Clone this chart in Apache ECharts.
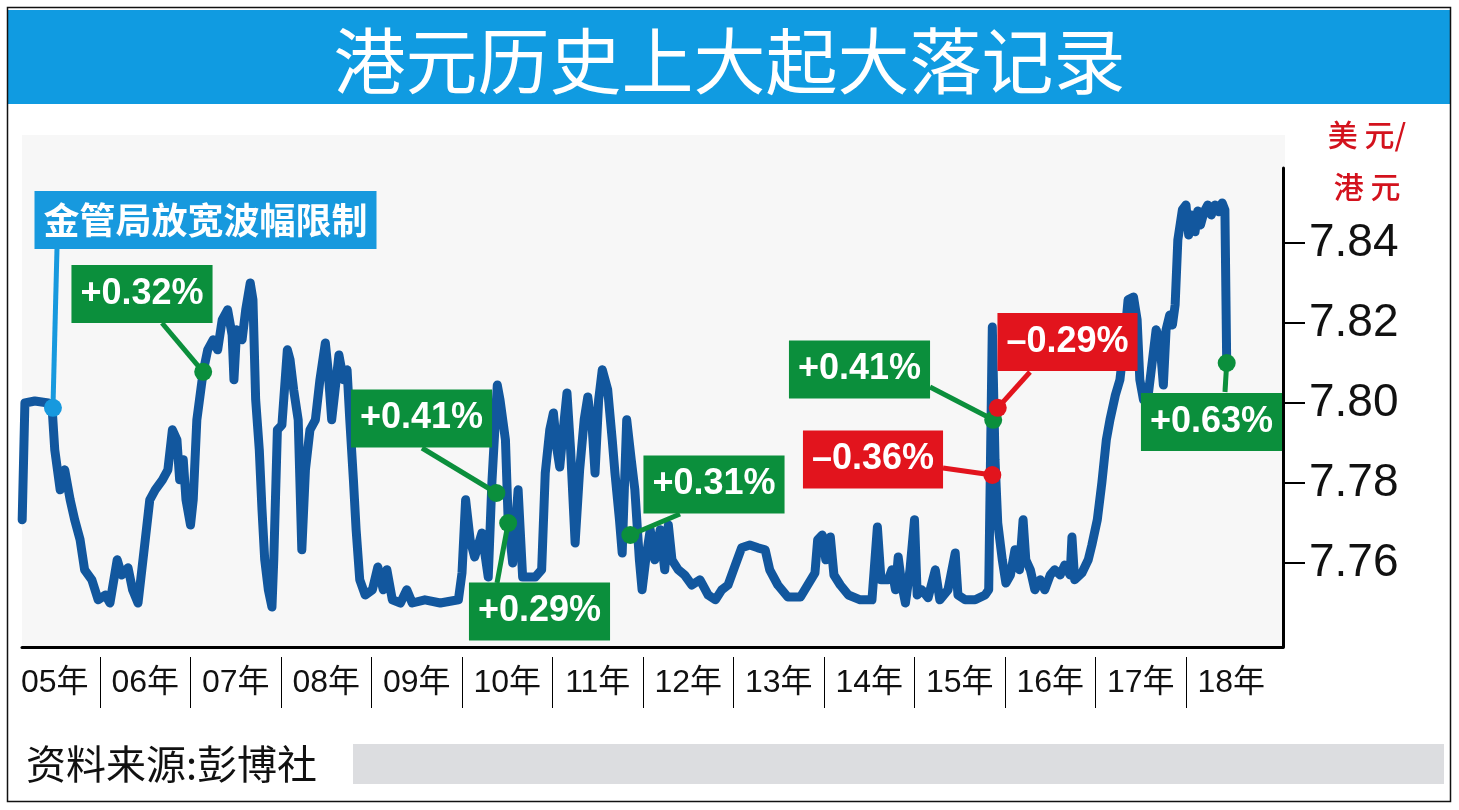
<!DOCTYPE html>
<html><head><meta charset="utf-8">
<script src="https://cdn.jsdelivr.net/npm/echarts@6.0.0/dist/echarts.min.js"></script>
<style>html,body{margin:0;padding:0;background:#fff}#chart{width:1459px;height:810px}</style>
</head><body><div id="chart"></div>
<script>
// ---- data ----
const lineYears = [
2005.14,2005.17,2005.28,2005.43,2005.47,2005.50,2005.56,2005.61,2005.67,2005.72,2005.78,2005.83,2005.91,2005.98,
2006.06,2006.11,2006.19,2006.24,2006.31,2006.36,2006.42,2006.50,2006.55,2006.61,2006.69,2006.75,2006.80,2006.85,2006.88,2006.92,2006.95,
2007.00,2007.03,2007.07,2007.14,2007.19,2007.25,2007.30,2007.35,2007.41,2007.46,2007.48,2007.51,2007.57,2007.61,2007.66,2007.69,2007.72,2007.76,2007.79,2007.82,2007.86,2007.90,2007.92,2007.96,
2008.01,2008.07,2008.10,2008.14,2008.19,2008.23,2008.27,2008.32,2008.38,2008.43,2008.49,2008.52,2008.56,2008.61,2008.64,2008.69,2008.73,2008.76,2008.80,2008.83,2008.87,2008.93,
2009.01,2009.07,2009.13,2009.17,2009.23,2009.32,2009.39,2009.45,2009.59,2009.76,2009.96,
2010.00,2010.04,2010.09,2010.14,2010.22,2010.29,2010.33,2010.39,2010.42,2010.48,2010.51,2010.56,2010.62,2010.67,2010.81,2010.88,2010.92,2010.97,
2011.01,2011.05,2011.08,2011.13,2011.16,2011.20,2011.25,2011.30,2011.35,2011.39,2011.44,2011.47,2011.51,2011.55,2011.58,2011.61,2011.66,2011.69,2011.74,2011.77,2011.82,2011.87,2011.91,2011.96,2011.99,
2012.03,2012.08,2012.13,2012.19,2012.24,2012.28,2012.32,2012.39,2012.46,2012.54,2012.63,2012.72,2012.80,2012.87,2012.94,
2013.02,2013.09,2013.18,2013.27,2013.35,2013.40,2013.49,2013.60,2013.74,2013.82,2013.90,2013.93,2013.98,
2014.02,2014.07,2014.11,2014.18,2014.27,2014.40,2014.53,2014.59,2014.63,2014.71,2014.75,2014.79,2014.82,2014.86,2014.90,2014.95,
2015.00,2015.03,2015.08,2015.15,2015.23,2015.28,2015.37,2015.45,2015.48,2015.56,2015.67,2015.78,2015.82,2015.86,2015.89,2015.92,2015.97,
2016.01,2016.06,2016.11,2016.16,2016.20,2016.23,2016.28,2016.33,2016.39,2016.44,2016.50,2016.55,2016.61,2016.66,2016.72,2016.74,2016.77,2016.85,2016.92,2016.96,
2017.02,2017.07,2017.12,2017.16,2017.22,2017.27,2017.32,2017.36,2017.42,2017.46,2017.49,2017.53,2017.58,2017.63,2017.67,2017.71,2017.75,2017.78,2017.82,2017.85,2017.88,2017.91,2017.96,
2018.00,2018.03,2018.06,2018.10,2018.13,2018.16,2018.20,2018.24,2018.28,2018.32,2018.36,2018.40,2018.43,2018.45
];
const lineValues = [
7.7708,7.8000,7.8005,7.8000,7.7990,7.7883,7.7783,7.7833,7.7758,7.7708,7.7658,7.7583,7.7558,7.7508,
7.7520,7.7500,7.7608,7.7570,7.7588,7.7533,7.7500,7.7658,7.7758,7.7783,7.7808,7.7833,7.7933,7.7908,7.7808,7.7858,7.7758,
7.7695,7.7758,7.7958,7.8078,7.8133,7.8158,7.8133,7.8208,7.8233,7.8170,7.8058,7.8183,7.8158,7.8233,7.8300,7.8258,7.8008,7.7883,7.7733,7.7608,7.7533,7.7490,7.7608,7.7933,
7.7945,7.8133,7.8108,7.8033,7.7958,7.7633,7.7833,7.7933,7.7958,7.8058,7.8150,7.8083,7.7958,7.8058,7.8120,7.8058,7.8083,7.7958,7.7808,7.7683,7.7558,7.7520,
7.7533,7.7590,7.7533,7.7583,7.7508,7.7500,7.7533,7.7500,7.7508,7.7500,7.7508,
7.7575,7.7758,7.7658,7.7615,7.7675,7.7565,7.7800,7.8045,7.8008,7.7908,7.7708,7.7600,7.7783,7.7565,7.7565,7.7583,7.7825,7.7933,
7.7975,7.7883,7.7840,7.7958,7.8025,7.7883,7.7650,7.7833,7.7958,7.8015,7.7933,7.7825,7.8008,7.8083,7.8058,7.8033,7.7908,7.7825,7.7708,7.7625,7.7958,7.7858,7.7783,7.7608,7.7533,
7.7608,7.7683,7.7608,7.7683,7.7583,7.7695,7.7608,7.7583,7.7570,7.7545,7.7558,7.7520,7.7508,7.7533,7.7545,
7.7595,7.7638,7.7645,7.7638,7.7633,7.7583,7.7545,7.7515,7.7515,7.7545,7.7575,7.7658,7.7670,
7.7608,7.7665,7.7570,7.7545,7.7520,7.7508,7.7508,7.7690,7.7558,7.7558,7.7583,7.7533,7.7615,7.7545,7.7500,7.7583,
7.7708,7.7520,7.7533,7.7513,7.7583,7.7508,7.7533,7.7625,7.7520,7.7508,7.7508,7.7520,7.7533,7.8190,7.7858,7.7700,7.7608,
7.7550,7.7570,7.7633,7.7583,7.7708,7.7608,7.7583,7.7533,7.7558,7.7533,7.7570,7.7583,7.7570,7.7595,7.7570,7.7665,7.7558,7.7575,7.7608,7.7645,
7.7708,7.7800,7.7908,7.7958,7.8020,7.8058,7.8158,7.8258,7.8265,7.8208,7.8058,7.8008,7.8015,7.8108,7.8183,7.8158,7.8045,7.8183,7.8220,7.8195,7.8245,7.8408,7.8483,
7.8495,7.8420,7.8470,7.8428,7.8480,7.8445,7.8478,7.8495,7.8470,7.8495,7.8478,7.8500,7.8483,7.8103
];
const yearLabels = ['05年','06年','07年','08年','09年','10年','11年','12年','13年','14年','15年','16年','17年','18年'];
const yTickValues = [7.76, 7.78, 7.80, 7.82, 7.84];

const annoText  = ['金管局放宽波幅限制','+0.32%','+0.41%','+0.29%','+0.31%','+0.41%','–0.36%','–0.29%','+0.63%'];
const annoYear  = [2005.48, 2007.14, 2010.38, 2010.51, 2011.86, 2015.87, 2015.86, 2015.92, 2018.45];
const annoValue = [7.7988, 7.8078, 7.7775, 7.7700, 7.7670, 7.7958, 7.7820, 7.7988, 7.8100];
const annoKind  = ['policy','rise','rise','rise','rise','rise','fall','fall','rise'];

// ---- layout / style (not data) ----
const kindColor = {policy:'#1799de', rise:'#0b8f3c', fall:'#e2141d'};
const annoBoxCenter = [[205.5,220],[142,294],[421.5,418.5],[539.5,611.5],[714,484.5],[859.5,369.5],[873,459.5],[1067.5,342],[1211.5,422]];
const leaderEnd = [[57,248],[162,323],[422,448],[497,583],[680,514],[930,387],[943,468],[1030,372],[1225,392]];

const LAT = "'Liberation Sans', 'Noto Sans CJK SC', sans-serif";
const CJK = "'Noto Sans CJK SC', sans-serif";
const X_MIN = 2005.138, X_MAX = 2019.072;
const yearBounds = yearLabels.slice(1).map((_, i) => 2006 + i);
const yearMids = yearLabels.map((_, i) => 2005.5 + i);

const chart = echarts.init(document.getElementById('chart'), null, {renderer: 'canvas'});

const lineData = lineYears.map((y, i) => [y, lineValues[i]]);
const annoData = annoYear.map((y, i) => ({
  value: [y, annoValue[i]],
  itemStyle: {color: kindColor[annoKind[i]], opacity: 1},
  label: {
    backgroundColor: kindColor[annoKind[i]],
    fontFamily: annoKind[i] === 'policy' ? CJK : LAT
  }
}));
const leaderData = annoYear.map((y, i) => [
  {coord: [y, annoValue[i]], lineStyle: {color: kindColor[annoKind[i]], width: 5, type: 'solid', opacity: 1}},
  {x: leaderEnd[i][0], y: leaderEnd[i][1]}
]);

const option = {
  animation: false,
  backgroundColor: '#ffffff',
  title: {
    text: '港元历史上大起大落记录',
    left: 'center', top: 21, padding: 0,
    textStyle: {color: '#ffffff', fontSize: 72, fontWeight: 'normal', fontFamily: CJK, lineHeight: 80}
  },
  graphic: [
    {type: 'rect', z: -10, silent: true, shape: {x: 22, y: 135, width: 1263, height: 512}, style: {fill: '#f7f7f7'}},
    {type: 'rect', z: -10, silent: true, shape: {x: 7, y: 10, width: 1444, height: 94}, style: {fill: '#109be1'}},
    {type: 'rect', z: 10, silent: true, shape: {x: 7.5, y: 7.5, width: 1443, height: 794}, style: {fill: 'none', stroke: '#111', lineWidth: 1.5}},
    {type: 'rect', z: -10, silent: true, shape: {x: 353, y: 744, width: 1091, height: 40}, style: {fill: '#dcdde0'}},
    {type: 'text', silent: true, x: 26, y: 764, style: {text: '资料来源:彭博社', fill: '#111', fontSize: 40, fontFamily: CJK, verticalAlign: 'middle', textVerticalAlign: 'middle'}},
    {type: 'text', silent: true, x: 1367, y: 135, style: {text: '美 元/', fill: '#d3121d', fontSize: 30, fontWeight: 500, fontFamily: CJK, align: 'center', textAlign: 'center', verticalAlign: 'middle', textVerticalAlign: 'middle'}},
    {type: 'text', silent: true, x: 1367, y: 187, style: {text: '港 元', fill: '#d3121d', fontSize: 30, fontWeight: 500, fontFamily: CJK, align: 'center', textAlign: 'center', verticalAlign: 'middle', textVerticalAlign: 'middle'}}
  ],
  grid: {left: 22, right: 176, top: 168, bottom: 163, containLabel: false},
  xAxis: [
    {
      type: 'value', min: X_MIN, max: X_MAX,
      axisLine: {show: true, onZero: false, lineStyle: {color: '#000', width: 3}},
      axisTick: {show: false}, axisLabel: {show: false}, splitLine: {show: false}
    },
    {
      type: 'value', min: X_MIN, max: X_MAX, position: 'bottom', offset: 10,
      axisLine: {show: false, onZero: false},
      axisTick: {show: true, customValues: yearBounds, length: 51, lineStyle: {color: '#000', width: 1}},
      axisLabel: {
        show: true, customValues: yearMids, margin: 10,
        formatter: v => yearLabels[Math.round(v - 2005.5)],
        fontSize: 32, color: '#111', fontFamily: LAT
      },
      splitLine: {show: false}
    }
  ],
  yAxis: {
    type: 'value', position: 'right', min: 7.739, max: 7.85875,
    axisLine: {show: true, onZero: false, lineStyle: {color: '#000', width: 3}},
    axisTick: {show: true, customValues: yTickValues, length: 22, lineStyle: {color: '#000', width: 2}},
    axisLabel: {
      show: true, customValues: yTickValues, margin: 26,
      formatter: v => v.toFixed(2),
      fontSize: 46, color: '#111', fontFamily: LAT
    },
    splitLine: {show: false}
  },
  series: [
    {
      name: '美元/港元', type: 'line', xAxisIndex: 0, yAxisIndex: 0,
      data: lineData, symbol: 'none', z: 2,
      lineStyle: {color: '#12579e', width: 9, join: 'round', cap: 'round'}
    },
    {
      name: '标注', type: 'scatter', xAxisIndex: 0, yAxisIndex: 0, z: 6,
      symbol: 'circle', symbolSize: 18, clip: false,
      data: annoData,
      itemStyle: {opacity: 1},
      label: {
        show: true,
        formatter: p => annoText[p.dataIndex],
        color: '#fff', fontSize: 36, fontWeight: 'bold', lineHeight: 36,
        padding: [11, 9]
      },
      labelLayout: p => ({
        x: annoBoxCenter[p.dataIndex][0], y: annoBoxCenter[p.dataIndex][1],
        align: 'center', verticalAlign: 'middle'
      }),
      markLine: {
        silent: true, z: 5, symbol: ['none', 'none'],
        label: {show: false},
        lineStyle: {width: 5, type: 'solid', opacity: 1},
        data: leaderData
      }
    }
  ]
};
chart.setOption(option);
</script>
</body></html>
